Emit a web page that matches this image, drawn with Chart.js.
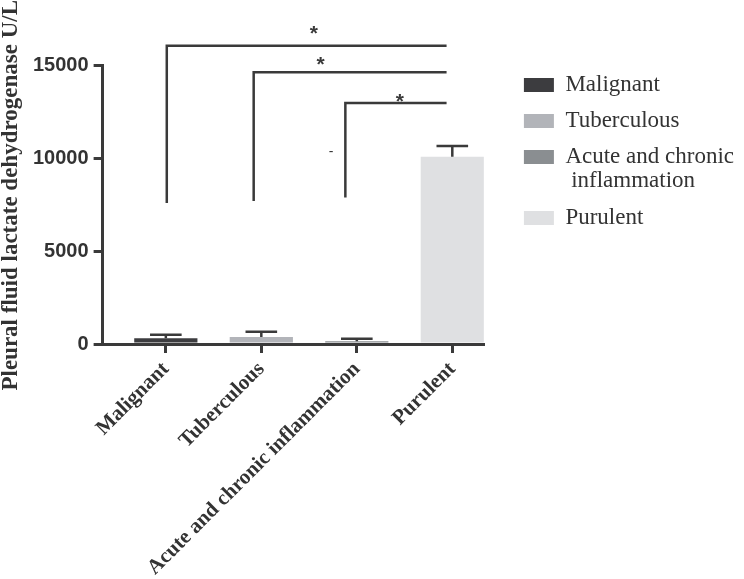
<!DOCTYPE html>
<html>
<head>
<meta charset="utf-8">
<script src="https://cdn.jsdelivr.net/npm/chart.js@4.4.1/dist/chart.umd.min.js"></script>
<style>
  html, body { margin: 0; padding: 0; background: #fff; }
</style>
</head>
<body>
<canvas id="ldhChart" width="744" height="579"></canvas>
<script>
const categories = ['Malignant', 'Tuberculous', 'Acute and chronic inflammation', 'Purulent'];
const legendLabels = ['Malignant', 'Tuberculous', ['Acute and chronic', ' inflammation'], 'Purulent'];
const meanValues = [305, 375, 145, 10070];
const errorValues = [195, 285, 140, 575];
const barColors = ['#3c3c3f', '#b2b4b9', '#8a8e91', '#dfe0e2'];
const yTicks = [0, 5000, 10000, 15000];

// significance brackets: x in category units, y in U/L
const bracketFrom = [0.01, 0.92, 1.88];
const bracketTo = [2.94, 2.94, 2.94];
const bracketTop = [16040, 14610, 12960];
const bracketBottom = [7580, 7690, 7870];
const starX = [1.55, 1.62, 2.45];
const starY = [16860, 15230, 13250];
const dashX = 1.73;
const dashY = 10340;

const serif = "'Liberation Serif', 'Times New Roman', serif";
const sans = "'Liberation Sans', Arial, sans-serif";
const ink = '#3a3a3a';

const annotations = {
  id: 'annotations',
  afterDatasetsDraw(chart) {
    const ctx = chart.ctx;
    const x = chart.scales.x;
    const y = chart.scales.y;
    ctx.save();
    ctx.strokeStyle = ink;
    ctx.lineWidth = 2.5;
    ctx.lineJoin = 'miter';

    // error bars (mean + error), cap half the bar width
    chart.data.datasets.forEach((ds, i) => {
      const bar = chart.getDatasetMeta(i).data[0];
      const half = bar.width / 4;
      const top = y.getPixelForValue(meanValues[i] + errorValues[i]);
      ctx.beginPath();
      ctx.moveTo(bar.x, bar.y);
      ctx.lineTo(bar.x, top);
      ctx.moveTo(bar.x - half, top);
      ctx.lineTo(bar.x + half, top);
      ctx.stroke();
    });

    // brackets
    for (let i = 0; i < bracketFrom.length; i++) {
      ctx.beginPath();
      ctx.moveTo(x.getPixelForValue(bracketFrom[i]), y.getPixelForValue(bracketBottom[i]));
      ctx.lineTo(x.getPixelForValue(bracketFrom[i]), y.getPixelForValue(bracketTop[i]));
      ctx.lineTo(x.getPixelForValue(bracketTo[i]), y.getPixelForValue(bracketTop[i]));
      ctx.stroke();
    }

    ctx.fillStyle = ink;
    ctx.textAlign = 'center';
    ctx.textBaseline = 'alphabetic';
    ctx.font = 'bold 21px ' + sans;
    for (let i = 0; i < starX.length; i++) {
      ctx.fillText('*', x.getPixelForValue(starX[i]), y.getPixelForValue(starY[i]) + 10);
    }
    ctx.font = '14px ' + sans;
    ctx.fillText('-', x.getPixelForValue(dashX), y.getPixelForValue(dashY) + 4);
    ctx.restore();
  }
};

const ctx = document.getElementById('ldhChart').getContext('2d');
new Chart(ctx, {
  type: 'bar',
  data: {
    datasets: categories.map((c, i) => ({
      label: legendLabels[i],
      data: [{ x: i, y: meanValues[i] }],
      backgroundColor: barColors[i],
      borderWidth: 0,
      grouped: false,
      categoryPercentage: 1,
      barPercentage: 0.662
    }))
  },
  options: {
    responsive: false,
    animation: false,
    layout: { padding: 0 },
    scales: {
      x: {
        type: 'linear',
        min: -0.662,
        max: 3.331,
        offset: false,
        afterBuildTicks: s => { s.ticks = categories.map((c, i) => ({ value: i })); },
        afterFit: s => { s.height = 235; },
        grid: { offset: false, drawOnChartArea: false, tickLength: 9, lineWidth: 3, color: ink },
        border: { width: 3, color: ink },
        ticks: {
          autoSkip: false,
          maxRotation: 45,
          minRotation: 45,
          padding: 4,
          color: '#333',
          font: { family: serif, size: 21, weight: 'bold' },
          callback: v => categories[v]
        }
      },
      y: {
        min: 0,
        max: 15000,
        afterBuildTicks: s => { s.ticks = yTicks.map(v => ({ value: v })); },
        grid: { drawOnChartArea: false, tickLength: 9, lineWidth: 3, color: ink },
        border: { width: 3, color: ink },
        ticks: {
          padding: 5,
          color: '#333',
          font: { family: sans, size: 20, weight: 'bold' },
          callback: v => String(v)
        }
      },
      x2: {
        type: 'linear',
        position: 'top',
        grid: { display: false },
        border: { display: false },
        ticks: { display: false },
        afterFit: s => { s.height = 65; }
      },
      y2: {
        type: 'linear',
        position: 'right',
        grid: { display: false },
        border: { display: false },
        ticks: { display: false },
        afterFit: s => { s.width = 27; }
      }
    },
    plugins: {
      tooltip: { enabled: false },
      title: {
        display: true,
        text: 'Pleural fluid lactate dehydrogenase U/L',
        position: 'left',
        align: 'end',
        color: '#333',
        font: { family: serif, size: 23, weight: 'bold', lineHeight: 1 },
        padding: { top: 0, bottom: 5 }
      },
      legend: {
        position: 'right',
        align: 'start',
        maxWidth: 320,
        title: { display: true, text: '', font: { size: 10, lineHeight: 1 }, padding: { top: 0, bottom: 50.5 } },
        labels: {
          boxWidth: 30,
          boxHeight: 14,
          padding: 13,
          color: '#333',
          font: { family: serif, size: 23, lineHeight: 24 / 23 }
        }
      }
    }
  },
  plugins: [annotations]
});
</script>
</body>
</html>
